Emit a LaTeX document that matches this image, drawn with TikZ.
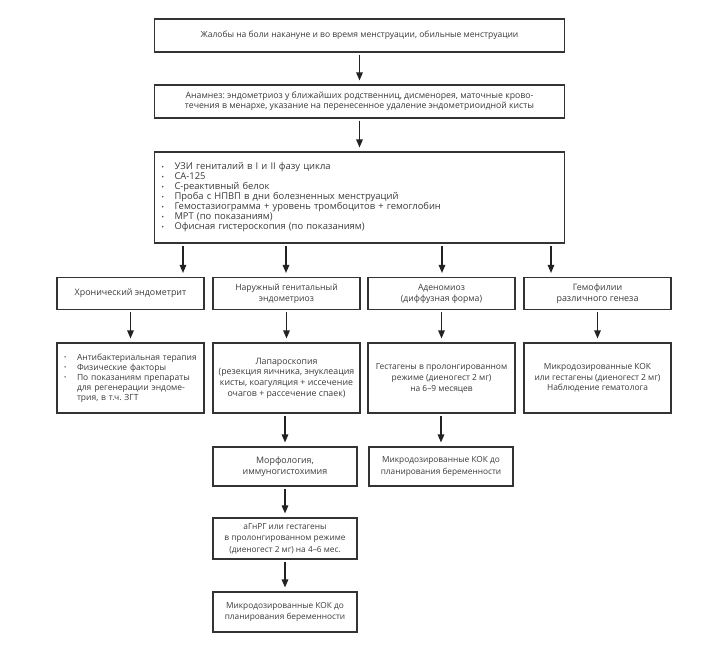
\documentclass[tikz,border=0pt]{standalone}
\usepackage{fontspec}
\setmainfont{Open Sans}
\usetikzlibrary{arrows.meta}
\definecolor{boxc}{HTML}{333333}
\definecolor{txt}{HTML}{3A3A3A}
\definecolor{arrc}{HTML}{222222}
\newcommand{\blt}{\makebox[13pt][l]{\raisebox{0.6pt}{\scalebox{0.7}{•}}}}
\newcommand{\blind}{\hspace*{13pt}}
\frenchspacing
\begin{document}
\begin{tikzpicture}[x=1pt,y=-1pt,
  fs/.style 2 args={font=\fontsize{#1}{#2}\selectfont},
  box/.style={draw=boxc, line width=1.1pt, align=center, inner sep=0pt,
    fs={8.4}{10.8}, text=txt},
  listbox/.style={box, align=left, inner xsep=7pt},
  arr/.style={-{Triangle[length=8pt,width=6.5pt]}, line width=1.3pt, draw=arrc,
    shorten <=2pt, shorten >=4pt}]
\useasboundingbox[fill=white] (0,0) rectangle (719,659);

\node[box, fs={8.5}{10}, minimum width=410pt, minimum height=33pt] (b1) at (359.5,35.5)
  {Жалобы на боли накануне и во время менструации, обильные менструации};
\node[box, fs={8.7}{9.8}, minimum width=410pt, minimum height=33pt] (b2) at (359.5,101.5)
  {Анамнез: эндометриоз у ближайших родственниц, дисменорея, маточные крово-\\
   течения в менархе, указание на перенесенное удаление эндометриоидной кисты};
\node[listbox, fs={9.4}{10}, text width=396pt, minimum height=91pt] (b3) at (359.5,197.5)
  {\blt УЗИ гениталий в I и II фазу цикла\\
   \blt CA-125\\
   \blt С-реактивный белок\\
   \blt Проба с НПВП в дни болезненных менструаций\\
   \blt Гемостазиограмма + уровень тромбоцитов + гемоглобин\\
   \blt МРТ (по показаниям)\\
   \blt Офисная гистероскопия (по показаниям)};

% row 4
\node[box, fs={8.9}{11}, minimum width=147pt, minimum height=32pt] (a4) at (130.5,293.5)
  {Хронический эндометрит};
\node[box, fs={8.6}{11}, minimum width=147pt, minimum height=32pt] (b4) at (286.5,293.5)
  {Наружный генитальный\\эндометриоз};
\node[box, fs={8.6}{11}, minimum width=147pt, minimum height=32pt] (c4) at (441.5,293.5)
  {Аденомиоз\\(диффузная форма)};
\node[box, fs={8.9}{11}, minimum width=147pt, minimum height=32pt] (d4) at (597.5,293.5)
  {Гемофилии\\различного генеза};

% row 5
\node[listbox, fs={8.5}{9.9}, text width=133pt, minimum height=70pt] (a5) at (130.5,378)
  {\blt Антибактериальная терапия\\
   \blt Физические факторы\\
   \blt По показаниям препараты\\
   \blind для регенерации эндоме-\\
   \blind трия, в т.ч. ЗГТ};
\node[box, fs={8.8}{10.7}, minimum width=147pt, minimum height=70pt] (b5) at (286.5,378)
  {Лапароскопия\\(резекция яичника, энуклеация\\кисты, коагуляция + иссечение\\очагов + рассечение спаек)};
\node[box, fs={8.4}{10.8}, minimum width=147pt, minimum height=70pt] (c5) at (441.5,378)
  {Гестагены в пролонгированном\\режиме (диеногест 2 мг)\\на 6–9 месяцев};
\node[box, fs={8.4}{10.4}, minimum width=147pt, minimum height=70pt] (d5) at (597.5,378)
  {Микродозированные КОК\\или гестагены (диеногест 2 мг)\\Наблюдение гематолога};

% row 6
\node[box, fs={8.9}{11.3}, minimum width=144pt, minimum height=39pt] (b6) at (285,466.5)
  {Морфология,\\иммуногистохимия};
\node[box, fs={8.3}{11.3}, minimum width=144pt, minimum height=39pt] (c6) at (441,466.5)
  {Микродозированные КОК до\\планирования беременности};

% row 7, 8
\node[box, fs={8.3}{11.6}, minimum width=144pt, minimum height=41pt] (b7) at (285,538.5)
  {аГнРГ или гестагены\\в пролонгированном режиме\\(диеногест 2 мг) на 4–6 мес.};
\node[box, fs={8.3}{11.3}, minimum width=144pt, minimum height=40pt] (b8) at (285,612)
  {Микродозированные КОК до\\планирования беременности};

% arrows
\draw[arr] (b1) -- (b2);
\draw[arr] (b2) -- (b3);
\coordinate (t1) at (183,0);
\coordinate (t2) at (286,0);
\coordinate (t3) at (442,0);
\coordinate (t4) at (551,0);
\draw[arr] (b3.south -| t1) -- (a4.north -| t1);
\draw[arr] (b3.south -| t2) -- (b4.north -| t2);
\draw[arr] (b3.south -| t3) -- (c4.north -| t3);
\draw[arr] (b3.south -| t4) -- (d4.north -| t4);
\draw[arr] (a4) -- (a5);
\draw[arr] (b4) -- (b5);
\draw[arr] (c4) -- (c5);
\draw[arr] (d4) -- (d5);
\draw[arr] (b5.south -| b6) -- (b6);
\draw[arr] (c5.south -| c6) -- (c6);
\draw[arr] (b6) -- (b7);
\draw[arr] (b7) -- (b8);
\end{tikzpicture}
\end{document}
